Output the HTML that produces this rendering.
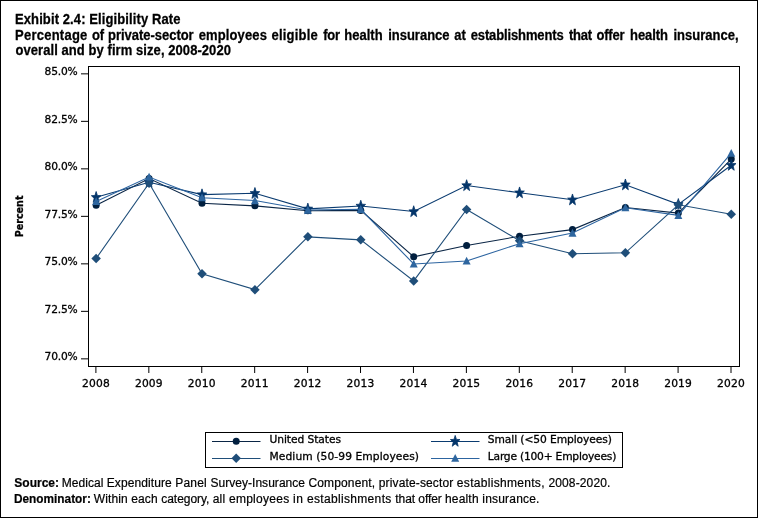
<!DOCTYPE html>
<html lang="en"><head><meta charset="utf-8"><title>Exhibit 2.4: Eligibility Rate</title>
<style>
html,body{margin:0;padding:0;background:#fff;}
body{width:758px;height:518px;overflow:hidden;position:relative;font-family:"Liberation Sans",Arial,sans-serif;color:#000;}
#wrap{position:absolute;left:0;top:0;width:756px;height:516px;border:1px solid #000;}
.title{position:absolute;font-weight:bold;font-size:13px;line-height:16px;white-space:nowrap;transform-origin:0 0;transform:scaleY(1.075);-webkit-text-stroke:0.25px #000;}
.foot{position:absolute;font-size:12px;line-height:16px;white-space:nowrap;transform-origin:0 0;-webkit-text-stroke:0.2px #000;}
b.foot{font-weight:bold;}
.line{position:absolute;left:0;top:0;width:0;height:0;}
.title,.foot{display:block;}
svg{position:absolute;left:0;top:0;}
svg text{font-family:"DejaVu Sans","Liberation Sans",sans-serif;font-size:10.7px;fill:#000;stroke:#000;stroke-width:0.3px;}
</style></head><body>
<div id="wrap"></div>
<div class="line"><span class="title" style="left:15.00px;top:11.2px;letter-spacing:0.104px">Exhibit 2.4: Eligibility Rate </span></div>
<div class="line"><span class="title" style="left:15.05px;top:26.9px;letter-spacing:0.243px">Percentage </span><span class="title" style="left:92.10px;top:26.9px;letter-spacing:-0.250px">of </span><span class="title" style="left:108.05px;top:26.9px;letter-spacing:-0.028px">private-sector </span><span class="title" style="left:198.70px;top:26.9px;letter-spacing:0.128px">employees </span><span class="title" style="left:271.50px;top:26.9px;letter-spacing:0.206px">eligible </span><span class="title" style="left:323.20px;top:26.9px;letter-spacing:-0.250px">for </span><span class="title" style="left:344.35px;top:26.9px;letter-spacing:0.002px">health </span><span class="title" style="left:388.20px;top:26.9px;letter-spacing:-0.010px">insurance </span><span class="title" style="left:454.30px;top:26.9px;letter-spacing:0.000px">at </span><span class="title" style="left:470.70px;top:26.9px;letter-spacing:-0.124px">establishments </span><span class="title" style="left:568.95px;top:26.9px;letter-spacing:-0.250px">that </span><span class="title" style="left:596.40px;top:26.9px;letter-spacing:-0.157px">offer </span><span class="title" style="left:630.05px;top:26.9px;letter-spacing:-0.058px">health </span><span class="title" style="left:673.50px;top:26.9px;letter-spacing:0.010px">insurance, </span></div>
<div class="line"><span class="title" style="left:15.50px;top:42.1px;letter-spacing:0.067px">overall and by firm size, 2008-2020 </span></div>
<div class="line"><b class="foot" style="left:14.3px;top:475px">Source: </b><span class="foot" style="left:61.80px;top:475px;letter-spacing:0.033px">Medical </span><span class="foot" style="left:106.75px;top:475px;letter-spacing:0.094px">Expenditure </span><span class="foot" style="left:175.25px;top:475px;letter-spacing:0.196px">Panel </span><span class="foot" style="left:210.45px;top:475px;letter-spacing:0.037px">Survey-Insurance </span><span class="foot" style="left:308.45px;top:475px;letter-spacing:0.149px">Component, </span><span class="foot" style="left:378.80px;top:475px;letter-spacing:0.135px">private-sector </span><span class="foot" style="left:456.85px;top:475px;letter-spacing:0.306px">establishments, </span><span class="foot" style="left:548.45px;top:475px;letter-spacing:0.129px">2008-2020. </span></div>
<div class="line"><b class="foot" style="left:14.3px;top:491px;transform:scaleX(0.985)">Denominator: </b><span class="foot" style="left:93.80px;top:491px;letter-spacing:0.097px">Within </span><span class="foot" style="left:131.15px;top:491px;letter-spacing:0.149px">each </span><span class="foot" style="left:161.25px;top:491px;letter-spacing:-0.040px">category, </span><span class="foot" style="left:212.65px;top:491px;letter-spacing:0.240px">all </span><span class="foot" style="left:228.95px;top:491px;letter-spacing:0.278px">employees </span><span class="foot" style="left:293.10px;top:491px;letter-spacing:0.392px">in </span><span class="foot" style="left:306.95px;top:491px;letter-spacing:0.332px">establishments </span><span class="foot" style="left:395.30px;top:491px;letter-spacing:-0.060px">that </span><span class="foot" style="left:418.35px;top:491px;letter-spacing:-0.096px">offer </span><span class="foot" style="left:444.90px;top:491px;letter-spacing:0.196px">health </span><span class="foot" style="left:482.30px;top:491px;letter-spacing:0.197px">insurance. </span></div>
<svg width="758" height="518" viewBox="0 0 758 518">

<rect x="88.5" y="66.5" width="651" height="300" fill="none" stroke="#000" stroke-width="1" shape-rendering="crispEdges"/>
<g stroke="#000" stroke-width="1">
<line x1="81" x2="88" y1="73.85" y2="73.85"/>
<line x1="81" x2="88" y1="121.35" y2="121.35"/>
<line x1="81" x2="88" y1="168.85" y2="168.85"/>
<line x1="81" x2="88" y1="216.35" y2="216.35"/>
<line x1="81" x2="88" y1="263.85" y2="263.85"/>
<line x1="81" x2="88" y1="311.35" y2="311.35"/>
<line x1="81" x2="88" y1="358.85" y2="358.85"/>
<line x1="95.90" x2="95.90" y1="367" y2="373"/>
<line x1="148.83" x2="148.83" y1="367" y2="373"/>
<line x1="201.75" x2="201.75" y1="367" y2="373"/>
<line x1="254.68" x2="254.68" y1="367" y2="373"/>
<line x1="307.60" x2="307.60" y1="367" y2="373"/>
<line x1="360.52" x2="360.52" y1="367" y2="373"/>
<line x1="413.45" x2="413.45" y1="367" y2="373"/>
<line x1="466.38" x2="466.38" y1="367" y2="373"/>
<line x1="519.30" x2="519.30" y1="367" y2="373"/>
<line x1="572.23" x2="572.23" y1="367" y2="373"/>
<line x1="625.15" x2="625.15" y1="367" y2="373"/>
<line x1="678.08" x2="678.08" y1="367" y2="373"/>
<line x1="731.00" x2="731.00" y1="367" y2="373"/>
</g>
<text x="44.6" y="75.0" textLength="33.0" lengthAdjust="spacing">85.0%</text>
<text x="44.6" y="122.5" textLength="33.0" lengthAdjust="spacing">82.5%</text>
<text x="44.6" y="170.0" textLength="33.0" lengthAdjust="spacing">80.0%</text>
<text x="44.6" y="217.5" textLength="33.0" lengthAdjust="spacing">77.5%</text>
<text x="44.6" y="265.0" textLength="33.0" lengthAdjust="spacing">75.0%</text>
<text x="44.6" y="312.5" textLength="33.0" lengthAdjust="spacing">72.5%</text>
<text x="44.6" y="360.0" textLength="33.0" lengthAdjust="spacing">70.0%</text>
<text x="82.00" y="387" textLength="27.7" lengthAdjust="spacing">2008</text>
<text x="134.93" y="387" textLength="27.7" lengthAdjust="spacing">2009</text>
<text x="187.85" y="387" textLength="27.7" lengthAdjust="spacing">2010</text>
<text x="240.78" y="387" textLength="27.7" lengthAdjust="spacing">2011</text>
<text x="293.70" y="387" textLength="27.7" lengthAdjust="spacing">2012</text>
<text x="346.62" y="387" textLength="27.7" lengthAdjust="spacing">2013</text>
<text x="399.55" y="387" textLength="27.7" lengthAdjust="spacing">2014</text>
<text x="452.48" y="387" textLength="27.7" lengthAdjust="spacing">2015</text>
<text x="505.40" y="387" textLength="27.7" lengthAdjust="spacing">2016</text>
<text x="558.33" y="387" textLength="27.7" lengthAdjust="spacing">2017</text>
<text x="611.25" y="387" textLength="27.7" lengthAdjust="spacing">2018</text>
<text x="664.18" y="387" textLength="27.7" lengthAdjust="spacing">2019</text>
<text x="717.10" y="387" textLength="27.7" lengthAdjust="spacing">2020</text>
<text transform="translate(23.2,237.3) rotate(-90)" font-weight="bold" stroke-width="0" textLength="41.8" lengthAdjust="spacingAndGlyphs">Percent</text>
<polyline points="96.15,205.29 149.08,178.50 202.00,203.20 254.93,205.86 307.85,210.80 360.77,210.42 413.70,256.78 466.62,245.57 519.55,236.26 572.48,229.61 625.40,207.57 678.33,213.08 731.25,159.12" fill="none" stroke="#0a2545" stroke-width="1.1"/>
<g fill="#011f3f">
<circle cx="96.15" cy="205.29" r="3.5"/>
<circle cx="149.08" cy="178.50" r="3.5"/>
<circle cx="202.00" cy="203.20" r="3.5"/>
<circle cx="254.93" cy="205.86" r="3.5"/>
<circle cx="307.85" cy="210.80" r="3.5"/>
<circle cx="360.77" cy="210.42" r="3.5"/>
<circle cx="413.70" cy="256.78" r="3.5"/>
<circle cx="466.62" cy="245.57" r="3.5"/>
<circle cx="519.55" cy="236.26" r="3.5"/>
<circle cx="572.48" cy="229.61" r="3.5"/>
<circle cx="625.40" cy="207.57" r="3.5"/>
<circle cx="678.33" cy="213.08" r="3.5"/>
<circle cx="731.25" cy="159.12" r="3.5"/>
</g>
<polyline points="96.15,197.31 149.08,182.30 202.00,194.65 254.93,193.32 307.85,208.90 360.77,206.05 413.70,211.56 466.62,185.53 519.55,192.75 572.48,199.78 625.40,184.77 678.33,204.34 731.25,165.20" fill="none" stroke="#0a3b70" stroke-width="1.1"/>
<g fill="#04356a">
<polygon points="96.15,191.51 97.38,195.49 100.94,195.66 98.15,198.28 99.11,202.36 96.15,200.01 93.19,202.36 94.15,198.28 91.36,195.66 94.92,195.49" stroke="#04356a" stroke-width="0.8" stroke-linejoin="miter" stroke-miterlimit="10"/>
<polygon points="149.08,176.50 150.31,180.48 153.87,180.65 151.07,183.27 152.04,187.35 149.08,185.00 146.11,187.35 147.08,183.27 144.28,180.65 147.84,180.48" stroke="#04356a" stroke-width="0.8" stroke-linejoin="miter" stroke-miterlimit="10"/>
<polygon points="202.00,188.85 203.23,192.83 206.79,193.00 204.00,195.62 204.96,199.70 202.00,197.35 199.04,199.70 200.00,195.62 197.21,193.00 200.77,192.83" stroke="#04356a" stroke-width="0.8" stroke-linejoin="miter" stroke-miterlimit="10"/>
<polygon points="254.93,187.52 256.16,191.50 259.72,191.67 256.92,194.29 257.89,198.37 254.93,196.02 251.96,198.37 252.93,194.29 250.13,191.67 253.69,191.50" stroke="#04356a" stroke-width="0.8" stroke-linejoin="miter" stroke-miterlimit="10"/>
<polygon points="307.85,203.10 309.08,207.08 312.64,207.25 309.85,209.87 310.81,213.95 307.85,211.60 304.89,213.95 305.85,209.87 303.06,207.25 306.62,207.08" stroke="#04356a" stroke-width="0.8" stroke-linejoin="miter" stroke-miterlimit="10"/>
<polygon points="360.77,200.25 362.01,204.23 365.57,204.40 362.77,207.02 363.74,211.10 360.77,208.75 357.81,211.10 358.78,207.02 355.98,204.40 359.54,204.23" stroke="#04356a" stroke-width="0.8" stroke-linejoin="miter" stroke-miterlimit="10"/>
<polygon points="413.70,205.76 414.93,209.74 418.49,209.91 415.70,212.53 416.66,216.61 413.70,214.26 410.74,216.61 411.70,212.53 408.91,209.91 412.47,209.74" stroke="#04356a" stroke-width="0.8" stroke-linejoin="miter" stroke-miterlimit="10"/>
<polygon points="466.62,179.73 467.86,183.71 471.42,183.88 468.62,186.50 469.59,190.58 466.62,188.23 463.66,190.58 464.63,186.50 461.83,183.88 465.39,183.71" stroke="#04356a" stroke-width="0.8" stroke-linejoin="miter" stroke-miterlimit="10"/>
<polygon points="519.55,186.95 520.78,190.93 524.34,191.10 521.55,193.72 522.51,197.80 519.55,195.45 516.59,197.80 517.55,193.72 514.76,191.10 518.32,190.93" stroke="#04356a" stroke-width="0.8" stroke-linejoin="miter" stroke-miterlimit="10"/>
<polygon points="572.48,193.98 573.71,197.96 577.27,198.13 574.47,200.75 575.44,204.83 572.48,202.48 569.51,204.83 570.48,200.75 567.68,198.13 571.24,197.96" stroke="#04356a" stroke-width="0.8" stroke-linejoin="miter" stroke-miterlimit="10"/>
<polygon points="625.40,178.97 626.63,182.95 630.19,183.12 627.40,185.74 628.36,189.82 625.40,187.47 622.44,189.82 623.40,185.74 620.61,183.12 624.17,182.95" stroke="#04356a" stroke-width="0.8" stroke-linejoin="miter" stroke-miterlimit="10"/>
<polygon points="678.33,198.54 679.56,202.52 683.12,202.69 680.32,205.31 681.29,209.39 678.33,207.04 675.36,209.39 676.33,205.31 673.53,202.69 677.09,202.52" stroke="#04356a" stroke-width="0.8" stroke-linejoin="miter" stroke-miterlimit="10"/>
<polygon points="731.25,159.40 732.48,163.38 736.04,163.55 733.25,166.17 734.21,170.25 731.25,167.90 728.29,170.25 729.25,166.17 726.46,163.55 730.02,163.38" stroke="#04356a" stroke-width="0.8" stroke-linejoin="miter" stroke-miterlimit="10"/>
</g>
<polyline points="96.15,258.49 149.08,183.25 202.00,273.69 254.93,289.65 307.85,236.83 360.77,239.87 413.70,280.91 466.62,209.47 519.55,240.82 572.48,253.74 625.40,252.79 678.33,204.72 731.25,214.22" fill="none" stroke="#1f4e79" stroke-width="1.1"/>
<g fill="#1f4e79">
<polygon points="96.15,253.74 100.90,258.49 96.15,263.24 91.40,258.49"/>
<polygon points="149.08,178.50 153.83,183.25 149.08,188.00 144.33,183.25"/>
<polygon points="202.00,268.94 206.75,273.69 202.00,278.44 197.25,273.69"/>
<polygon points="254.93,284.90 259.68,289.65 254.93,294.40 250.18,289.65"/>
<polygon points="307.85,232.08 312.60,236.83 307.85,241.58 303.10,236.83"/>
<polygon points="360.77,235.12 365.52,239.87 360.77,244.62 356.02,239.87"/>
<polygon points="413.70,276.16 418.45,280.91 413.70,285.66 408.95,280.91"/>
<polygon points="466.62,204.72 471.38,209.47 466.62,214.22 461.88,209.47"/>
<polygon points="519.55,236.07 524.30,240.82 519.55,245.57 514.80,240.82"/>
<polygon points="572.48,248.99 577.23,253.74 572.48,258.49 567.73,253.74"/>
<polygon points="625.40,248.04 630.15,252.79 625.40,257.54 620.65,252.79"/>
<polygon points="678.33,199.97 683.08,204.72 678.33,209.47 673.58,204.72"/>
<polygon points="731.25,209.47 736.00,214.22 731.25,218.97 726.50,214.22"/>
</g>
<polyline points="96.15,201.49 149.08,176.98 202.00,197.69 254.93,200.54 307.85,210.04 360.77,209.28 413.70,264.00 466.62,260.96 519.55,243.67 572.48,233.03 625.40,207.76 678.33,215.36 731.25,153.23" fill="none" stroke="#2c64a0" stroke-width="1.1"/>
<g fill="#2e669f">
<polygon points="96.15,197.29 100.15,205.09 92.15,205.09"/>
<polygon points="149.08,172.78 153.08,180.58 145.08,180.58"/>
<polygon points="202.00,193.49 206.00,201.29 198.00,201.29"/>
<polygon points="254.93,196.34 258.93,204.14 250.93,204.14"/>
<polygon points="307.85,205.84 311.85,213.64 303.85,213.64"/>
<polygon points="360.77,205.08 364.77,212.88 356.77,212.88"/>
<polygon points="413.70,259.80 417.70,267.60 409.70,267.60"/>
<polygon points="466.62,256.76 470.62,264.56 462.62,264.56"/>
<polygon points="519.55,239.47 523.55,247.27 515.55,247.27"/>
<polygon points="572.48,228.83 576.48,236.63 568.48,236.63"/>
<polygon points="625.40,203.56 629.40,211.36 621.40,211.36"/>
<polygon points="678.33,211.16 682.33,218.96 674.33,218.96"/>
<polygon points="731.25,149.03 735.25,156.83 727.25,156.83"/>
</g>
<rect x="205.5" y="432.5" width="417" height="35" fill="#fff" stroke="#000" stroke-width="1" shape-rendering="crispEdges"/>
<line x1="212" x2="260.5" y1="441.5" y2="441.5" stroke="#0a2545" stroke-width="1"/><g fill="#011f3f"><circle cx="236.20" cy="441.20" r="3.5"/></g><text x="269.5" y="443" textLength="71.5" lengthAdjust="spacing">United States</text>
<line x1="212" x2="260.5" y1="458.5" y2="458.5" stroke="#1f4e79" stroke-width="1"/><g fill="#1f4e79"><polygon points="236.20,453.45 240.95,458.20 236.20,462.95 231.45,458.20"/></g><text x="269.5" y="460" textLength="149.5" lengthAdjust="spacing">Medium (50-99 Employees)</text>
<line x1="431" x2="479.5" y1="441.5" y2="441.5" stroke="#0a3b70" stroke-width="1"/><g fill="#04356a"><polygon points="455.20,435.40 456.43,439.38 459.99,439.55 457.20,442.17 458.16,446.25 455.20,443.90 452.24,446.25 453.20,442.17 450.41,439.55 453.97,439.38" stroke="#04356a" stroke-width="0.8" stroke-linejoin="miter" stroke-miterlimit="10"/></g><text x="487.8" y="443" textLength="124" lengthAdjust="spacing">Small (&lt;50 Employees)</text>
<line x1="431" x2="479.5" y1="458.5" y2="458.5" stroke="#2c64a0" stroke-width="1"/><g fill="#2e669f"><polygon points="455.20,454.00 459.20,461.80 451.20,461.80"/></g><text x="487.8" y="460" textLength="128.5" lengthAdjust="spacing">Large (100+ Employees)</text>
</svg></body></html>
